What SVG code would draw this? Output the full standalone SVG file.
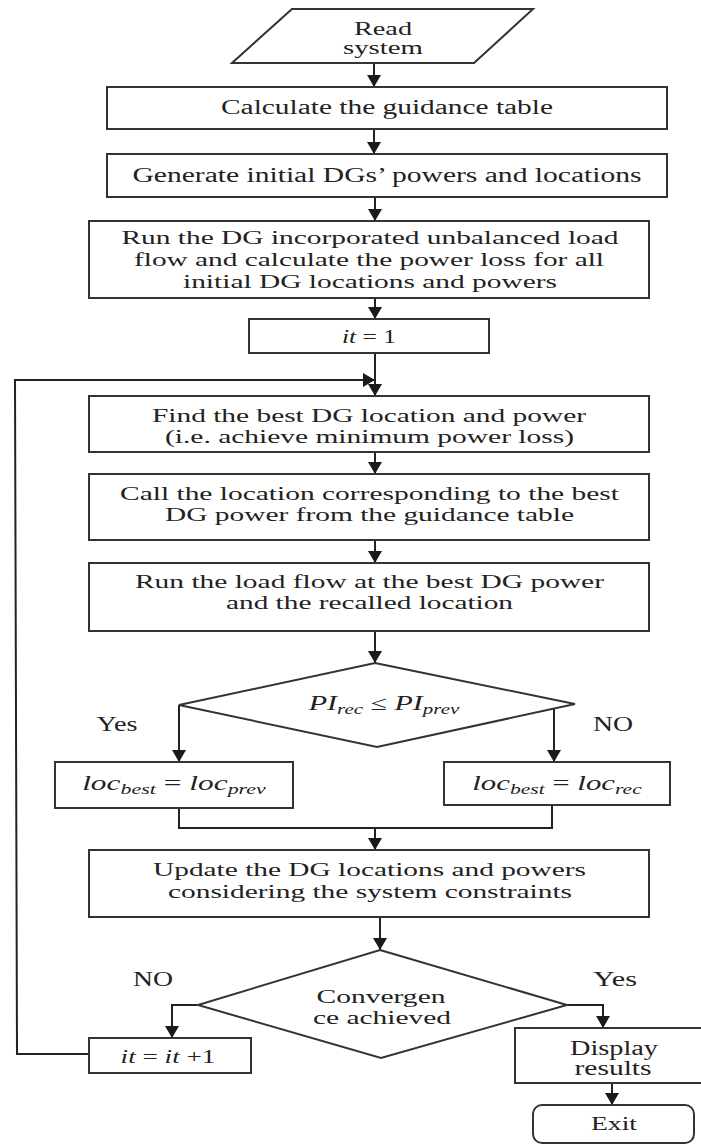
<svg xmlns="http://www.w3.org/2000/svg" width="701" height="1145" viewBox="0 0 701 1145">
<defs>
<marker id="ah" markerUnits="userSpaceOnUse" markerWidth="12" markerHeight="14" refX="12" refY="7" orient="auto"><path d="M0,0 L12,7 L0,14 Z" fill="#1a1a1a"/></marker>
</defs>
<style>
.n{fill:#fff;stroke:#333;stroke-width:2}
.c{fill:none;stroke:#222;stroke-width:2}
.t{font-family:"Liberation Serif","Times New Roman",serif;font-size:19px;fill:#222;text-anchor:middle}
.b{font-size:20px}
.i{font-style:italic}
</style>
<rect width="701" height="1145" fill="#fff"/>

<g id="connectors">
<path class="c" d="M374,63 V87" marker-end="url(#ah)"/>
<path class="c" d="M374,129 V154" marker-end="url(#ah)"/>
<path class="c" d="M375,197 V221" marker-end="url(#ah)"/>
<path class="c" d="M375,298 V319" marker-end="url(#ah)"/>
<path class="c" d="M375,353 V396" marker-end="url(#ah)"/>
<path class="c" d="M89,1054 H17 L15,380 H375" marker-end="url(#ah)"/>
<path class="c" d="M375,452 V474" marker-end="url(#ah)"/>
<path class="c" d="M375,540 V563" marker-end="url(#ah)"/>
<path class="c" d="M375,631 V663" marker-end="url(#ah)"/>
<path class="c" d="M179,705 V762" marker-end="url(#ah)"/>
<path class="c" d="M554,702 V762" marker-end="url(#ah)"/>
<path class="c" d="M179,808 V828 H552 V805"/>
<path class="c" d="M375,828 V850" marker-end="url(#ah)"/>
<path class="c" d="M380,917 V950" marker-end="url(#ah)"/>
<path class="c" d="M198,1005 H172 V1038" marker-end="url(#ah)"/>
<path class="c" d="M567,1005 H603 V1028" marker-end="url(#ah)"/>
<path class="c" d="M612,1083 V1105" marker-end="url(#ah)"/>
</g>

<g id="read">
<polygon class="n" points="292,9 533,9 474,63 232,63"/>
<text class="t" x="383" y="35" textLength="58" lengthAdjust="spacingAndGlyphs">Read</text>
<text class="t" x="383" y="54" textLength="80" lengthAdjust="spacingAndGlyphs">system</text>
</g>

<g id="calc">
<rect class="n" x="107" y="87" width="560" height="42"/>
<text class="t b" x="387" y="114" textLength="332" lengthAdjust="spacingAndGlyphs">Calculate the guidance table</text>
</g>

<g id="generate">
<rect class="n" x="107" y="154" width="560" height="43"/>
<text class="t b" x="387" y="182" textLength="509" lengthAdjust="spacingAndGlyphs">Generate initial DGs’ powers and locations</text>
</g>

<g id="runinit">
<rect class="n" x="89" y="221" width="560" height="77"/>
<text class="t" x="370" y="244" textLength="497" lengthAdjust="spacingAndGlyphs">Run the DG incorporated unbalanced load</text>
<text class="t" x="369" y="266" textLength="470" lengthAdjust="spacingAndGlyphs">flow and calculate the power loss for all</text>
<text class="t" x="370" y="288" textLength="374" lengthAdjust="spacingAndGlyphs">initial DG locations and powers</text>
</g>

<g id="it1">
<rect class="n" x="249" y="319" width="240" height="34"/>
<text class="t" transform="translate(369,343) scale(1.34,1)"><tspan class="i">it</tspan> = 1</text>
</g>

<g id="find">
<rect class="n" x="89" y="396" width="560" height="56"/>
<text class="t" x="369" y="422" textLength="434" lengthAdjust="spacingAndGlyphs">Find the best DG location and power</text>
<text class="t" x="369.5" y="443" textLength="409" lengthAdjust="spacingAndGlyphs">(i.e. achieve minimum power loss)</text>
</g>

<g id="call">
<rect class="n" x="89" y="474" width="560" height="66"/>
<text class="t" x="369.5" y="500" textLength="499" lengthAdjust="spacingAndGlyphs">Call the location corresponding to the best</text>
<text class="t" x="369.5" y="521" textLength="409" lengthAdjust="spacingAndGlyphs">DG power from the guidance table</text>
</g>

<g id="runbest">
<rect class="n" x="89" y="563" width="560" height="68"/>
<text class="t" x="369.5" y="588" textLength="469" lengthAdjust="spacingAndGlyphs">Run the load flow at the best DG power</text>
<text class="t" x="369.5" y="609" textLength="287" lengthAdjust="spacingAndGlyphs">and the recalled location</text>
</g>

<g id="decision1">
<polygon class="n" points="375,663 575,704 377,747 179,705"/>
<text class="t i" transform="translate(384,710) scale(1.5,1)" style="font-size:20px">PI<tspan dy="4" style="font-size:14px">rec</tspan><tspan dy="-4" style="font-style:normal"> ≤ </tspan>PI<tspan dy="4" style="font-size:14px">prev</tspan></text>
<text class="t b" x="117" y="731" textLength="41" lengthAdjust="spacingAndGlyphs">Yes</text>
<text class="t b" x="613" y="731" textLength="40" lengthAdjust="spacingAndGlyphs">NO</text>
</g>

<g id="locprev">
<rect class="n" x="55" y="762" width="238" height="46"/>
<text class="t i" transform="translate(174,790) scale(1.57,1)" style="font-size:20px">loc<tspan dy="4" style="font-size:14px">best</tspan><tspan dy="-4" style="font-style:normal"> = </tspan>loc<tspan dy="4" style="font-size:14px">prev</tspan></text>
</g>

<g id="locrec">
<rect class="n" x="444" y="762" width="226" height="43"/>
<text class="t i" transform="translate(557,790) scale(1.54,1)" style="font-size:20px">loc<tspan dy="4" style="font-size:14px">best</tspan><tspan dy="-4" style="font-style:normal"> = </tspan>loc<tspan dy="4" style="font-size:14px">rec</tspan></text>
</g>

<g id="update">
<rect class="n" x="89" y="850" width="560" height="67"/>
<text class="t" x="369.5" y="876" textLength="433" lengthAdjust="spacingAndGlyphs">Update the DG locations and powers</text>
<text class="t" x="370" y="898" textLength="404" lengthAdjust="spacingAndGlyphs">considering the system constraints</text>
</g>

<g id="decision2">
<polygon class="n" points="380,950 567,1005 381,1058 198,1005"/>
<text class="t" x="381" y="1003" textLength="129" lengthAdjust="spacingAndGlyphs">Convergen</text>
<text class="t" x="382" y="1024" textLength="138" lengthAdjust="spacingAndGlyphs">ce achieved</text>
<text class="t b" x="153" y="986" textLength="40" lengthAdjust="spacingAndGlyphs">NO</text>
<text class="t b" x="615" y="986" textLength="44" lengthAdjust="spacingAndGlyphs">Yes</text>
</g>

<g id="itinc">
<rect class="n" x="89" y="1038" width="162" height="35"/>
<text class="t" transform="translate(168,1063) scale(1.43,1)"><tspan class="i">it</tspan> = <tspan class="i">it</tspan> +1</text>
</g>

<g id="display">
<rect class="n" x="515" y="1028" width="190" height="55"/>
<text class="t b" x="614" y="1055" textLength="88" lengthAdjust="spacingAndGlyphs">Display</text>
<text class="t b" x="613" y="1075" textLength="77" lengthAdjust="spacingAndGlyphs">results</text>
</g>

<g id="exit">
<rect class="n" x="533" y="1105" width="161" height="38" rx="9"/>
<text class="t" x="614" y="1130" textLength="46" lengthAdjust="spacingAndGlyphs">Exit</text>
</g>
</svg>
